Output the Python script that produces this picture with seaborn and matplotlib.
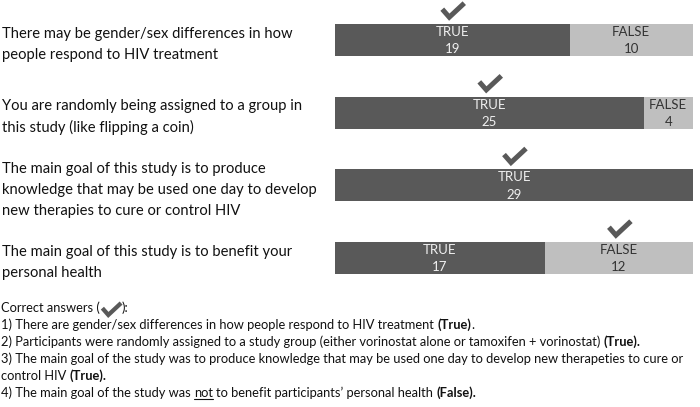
import numpy as np
import pandas as pd
import matplotlib
matplotlib.use('Agg')
import matplotlib.pyplot as plt
import matplotlib.transforms as mtransforms
from matplotlib.lines import Line2D
import seaborn as sns

# ── data ──────────────────────────────────────────────────────────────────────
questions = [
    "There may be gender/sex differences in how\npeople respond to HIV treatment",
    "You are randomly being assigned to a group in\nthis study (like flipping a coin)",
    "The main goal of this study is to produce\nknowledge that may be used one day to develop\nnew therapies to cure or control HIV",
    "The main goal of this study is to benefit your\npersonal health",
]
n_true = [19, 25, 29, 17]
n_false = [10, 4, 0, 12]
correct = ['TRUE', 'TRUE', 'TRUE', 'FALSE']

notes = [
    [("Correct answers (", 'normal'), ("", 'check'), ("):", 'normal')],
    [("1) There are gender/sex differences in how people respond to HIV treatment ", 'normal'),
     ("(True)", 'bold'), (".", 'normal')],
    [("2) Participants were randomly assigned to a study group (either vorinostat alone or tamoxifen + vorinostat) ", 'normal'),
     ("(True).", 'bold')],
    [("3) The main goal of the study was to produce knowledge that may be used one day to develop new therapeties to cure or", 'normal')],
    [("control HIV ", 'normal'), ("(True).", 'bold')],
    [("4) The main goal of the study was ", 'normal'), ("not", 'underline'),
     (" to benefit participants\u2019 personal health ", 'normal'), ("(False).", 'bold')],
]

DARK = '#595959'
LIGHT = '#bfbfbf'

sns.set_theme(style='white')
plt.rcParams['font.family'] = ['Lato', 'DejaVu Sans']

W, H = 700, 407
fig = plt.figure(figsize=(W / 100, H / 100), dpi=100)
ax = fig.add_axes([335 / W, 1 - 290 / H, 358 / W, 290 / H])

df = pd.DataFrame({'q': range(len(n_true)), 'true': n_true, 'false': n_false})
df['total'] = df['true'] + df['false']

sns.barplot(data=df, x='total', y='q', orient='h', color=LIGHT, width=0.44,
            saturation=1, linewidth=0, errorbar=None, ax=ax)
sns.barplot(data=df, x='true', y='q', orient='h', color=DARK, width=0.44,
            saturation=1, linewidth=0, errorbar=None, ax=ax)
ax.set_xlim(0, df['total'].max())
ax.set_ylim(3.44, -0.55)
ax.axis('off')


def draw_check(cx, cy, scale=1.0):
    # tick shape in pixels around (cx, cy), y pointing up
    xs = np.array([-10, -3, 12]) * scale + cx
    ys = np.array([1, -7, 7]) * scale + cy
    fig.add_artist(Line2D(xs, ys, color=DARK, lw=3.6 * scale,
                          solid_joinstyle='miter', solid_capstyle='butt',
                          transform=mtransforms.IdentityTransform()))


for i, r in df.iterrows():
    if r['true'] > 0:
        ax.text(r['true'] / 2, i - 0.11, 'TRUE', ha='center', va='center', color='#f0f0f0', fontsize=9.5)
        ax.text(r['true'] / 2, i + 0.13, str(r['true']), ha='center', va='center', color='#f0f0f0', fontsize=9.5)
    if r['false'] > 0:
        xc = r['true'] + r['false'] / 2
        ax.text(xc, i - 0.11, 'FALSE', ha='center', va='center', color='#333333', fontsize=9.5)
        ax.text(xc, i + 0.13, str(r['false']), ha='center', va='center', color='#333333', fontsize=9.5)
    xc = r['true'] / 2 if correct[i] == 'TRUE' else r['true'] + r['false'] / 2
    px, py = ax.transData.transform((xc, i - 0.41))
    draw_check(px, py)

# question labels on the left, aligned with bar centres
trans = mtransforms.blended_transform_factory(fig.transFigure, ax.transData)
for i, q in enumerate(questions):
    fig.text(2 / W, i + 0.06, q, transform=trans, ha='left', va='center',
             fontsize=10.6, color='#111111', linespacing=1.65)

# footnote with mixed styles
fig.canvas.draw()
rend = fig.canvas.get_renderer()


def width_px(t):
    return t.get_window_extent(renderer=rend).width


FS = 9.25
probe1 = fig.text(0, 0, "a a", fontsize=FS)
probe2 = fig.text(0, 0, "aa", fontsize=FS)
space = width_px(probe1) - width_px(probe2)
probe1.remove()
probe2.remove()

y0, dy = 308, 17
for k, segs in enumerate(notes):
    x = 1
    y = 1 - (y0 + k * dy) / H
    for txt, style in segs:
        if style == 'check':
            draw_check(x + 11, H - (y0 + k * dy) - 1, scale=0.85)
            x += 22
            continue
        kw = dict(fontsize=FS, color='#111111', va='center', ha='left')
        if style == 'bold':
            kw['fontweight'] = 'bold'
        lead = len(txt) - len(txt.lstrip(' '))
        x += lead * space
        t = fig.text(x / W, y, txt.strip(' '), **kw)
        w = width_px(t)
        if style == 'underline':
            bb = t.get_window_extent(renderer=rend)
            fig.add_artist(Line2D([bb.x0 / W, bb.x1 / W], [(bb.y0 + 0.5) / H] * 2,
                                  color='#111111', lw=0.8, transform=fig.transFigure))
        x += w
        x += (len(txt) - len(txt.rstrip(' '))) * space

fig.savefig('out.png', dpi=100, facecolor='white')
